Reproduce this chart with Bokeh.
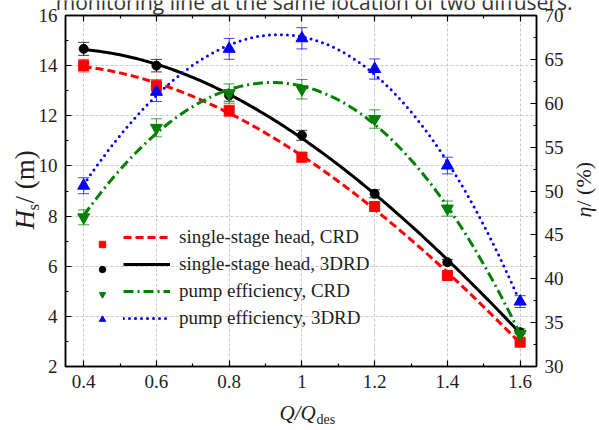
import numpy as np
from bokeh.plotting import figure
from bokeh.models import (Range1d, LinearAxis, FixedTicker, Whisker, TeeHead,
                          ColumnDataSource, Legend, LegendItem, Label,
                          CustomJSTickFormatter)
from bokeh.embed import file_html
from bokeh.resources import INLINE

# Relative flow rate Q/Q_des
flow = [0.4, 0.6, 0.8, 1.0, 1.2, 1.4, 1.6]

# Single-stage head (m) with measurement uncertainty
head_crd = [14.00, 13.20, 12.20, 10.35, 8.38, 5.63, 2.97]
head_crd_err = [0.25, 0.24, 0.22, 0.19, 0.15, 0.10, 0.06]
head_3drd = [14.67, 14.00, 12.81, 11.22, 8.89, 6.16, 3.37]
head_3drd_err = [0.26, 0.25, 0.23, 0.20, 0.16, 0.11, 0.06]

# Pump efficiency (%) with measurement uncertainty
eff_crd = [47.0, 57.2, 61.1, 61.6, 58.2, 48.0, 33.7]
eff_crd_err = [0.85, 1.03, 1.10, 1.11, 1.05, 0.86, 0.61]
eff_3drd = [50.6, 61.3, 66.2, 67.4, 63.9, 52.9, 37.4]
eff_3drd_err = [0.91, 1.10, 1.19, 1.21, 1.15, 0.95, 0.67]

labels = ["single-stage head, CRD", "single-stage head, 3DRD",
          "pump efficiency, CRD", "pump efficiency, 3DRD"]

x_ticks = [0.4, 0.6, 0.8, 1.0, 1.2, 1.4, 1.6]
x_minor = [0.5, 0.7, 0.9, 1.1, 1.3, 1.5]
h_ticks = [2, 4, 6, 8, 10, 12, 14, 16]
h_minor = [3, 5, 7, 9, 11, 13, 15]
eta_ticks = [30, 35, 40, 45, 50, 55, 60, 65, 70]
eta_minor = [32.5, 37.5, 42.5, 47.5, 52.5, 57.5, 62.5, 67.5]

SERIF = "Liberation Serif"
TXT = "#1e1e1e"
W, H = 599, 430

p = figure(width=W, height=H, output_backend="svg", toolbar_location=None,
           x_range=Range1d(0.35, 1.645), y_range=Range1d(2, 16),
           min_border_left=65, min_border_right=63, min_border_top=15,
           min_border_bottom=64)
p.extra_y_ranges = {"eta": Range1d(30, 70)}
p.background_fill_color = "white"
p.border_fill_color = "white"
p.outline_line_color = "black"
p.outline_line_width = 1.5

xt = FixedTicker(ticks=x_ticks, minor_ticks=x_minor)
ht = FixedTicker(ticks=h_ticks, minor_ticks=h_minor)
et = FixedTicker(ticks=eta_ticks, minor_ticks=eta_minor)

bottom_axis = p.below[0]
left_axis = p.left[0]
bottom_axis.ticker = xt
left_axis.ticker = ht
p.xgrid.ticker = xt
p.ygrid.ticker = ht
for g in (p.xgrid, p.ygrid):
    g.grid_line_color = "#c8c8c8"
    g.grid_line_dash = "3 2"
    g.grid_line_width = 1

right_axis = LinearAxis(y_range_name="eta", ticker=et)
top_axis = LinearAxis(ticker=xt,
                      formatter=CustomJSTickFormatter(code="return ''"))
p.add_layout(right_axis, "right")
p.add_layout(top_axis, "above")

for ax in (bottom_axis, left_axis, right_axis, top_axis):
    ax.axis_line_color = "black"
    ax.axis_line_width = 1.5
    ax.major_tick_line_color = "black"
    ax.minor_tick_line_color = "black"
    ax.major_tick_line_width = 1.2
    ax.minor_tick_line_width = 1.2
    ax.major_tick_in = 6
    ax.major_tick_out = 0
    ax.minor_tick_in = 3
    ax.minor_tick_out = 0
    ax.major_label_text_font = SERIF
    ax.major_label_text_font_size = "19px"
    ax.major_label_text_color = TXT
    ax.major_label_standoff = 8
top_axis.major_label_standoff = 0

series = [
    (head_crd, head_crd_err, "#ff0000", "square", 10, "8 4", "default"),
    (head_3drd, head_3drd_err, "#000000", "circle", 9, "solid", "default"),
    (eff_crd, eff_crd_err, "#008000", "inverted_triangle", 12, "10 4 2 4", "eta"),
    (eff_3drd, eff_3drd_err, "#0000ff", "triangle", 12, "0 6", "eta"),
]

xs = np.linspace(0.4, 1.6, 200)
mark_items, line_items = [], []
for lab, (vals, errs, color, marker, size, dash, rn) in zip(labels, series):
    coef = np.polyfit(flow, vals, 3)
    fit = np.polyval(coef, xs)
    ln = p.line(xs, fit, line_color=color, line_width=3, line_dash=dash,
                line_cap="round" if dash == "0 6" else "butt", y_range_name=rn)

    src = ColumnDataSource(dict(
        x=flow, y=vals,
        lower=[v - e for v, e in zip(vals, errs)],
        upper=[v + e for v, e in zip(vals, errs)]))
    wk = Whisker(source=src, base="x", lower="lower", upper="upper",
                 dimension="height", line_color=color, line_width=1,
                 line_alpha=0.75, y_range_name=rn,
                 upper_head=TeeHead(size=11, line_color=color, line_width=1, line_alpha=0.75),
                 lower_head=TeeHead(size=11, line_color=color, line_width=1, line_alpha=0.75))
    p.add_layout(wk)
    sc = p.scatter("x", "y", source=src, marker=marker, size=size,
                   fill_color=color, line_color=color, y_range_name=rn)
    mark_items.append(LegendItem(label=" ", renderers=[sc]))
    line_items.append(LegendItem(label=lab, renderers=[ln]))

common = dict(spacing=5, padding=0, margin=0, border_line_color=None,
              background_fill_alpha=0, label_text_font=SERIF,
              label_text_font_size="19px", label_text_color=TXT,
              glyph_height=20, label_height=20)
leg_marks = Legend(items=mark_items, location=(29, 37), glyph_width=16,
                   label_standoff=0, label_width=0, **common)
leg_lines = Legend(items=line_items, location=(58, 37), glyph_width=47,
                   label_standoff=9, **common)
p.add_layout(leg_marks)
p.add_layout(leg_lines)

# Transparent text layer spanning the whole canvas (1 unit = 1 pixel),
# carrying the axis titles and the caption line above the chart.
t = figure(width=W, height=H, output_backend="svg", toolbar_location=None,
           x_range=Range1d(0, W), y_range=Range1d(0, H), min_border=0,
           x_axis_type=None, y_axis_type=None,
           styles={"position": "absolute", "top": "0px", "left": "0px"})
t.title.visible = False
t.outline_line_color = None
t.background_fill_alpha = 0
t.border_fill_alpha = 0
t.xgrid.visible = False
t.ygrid.visible = False

# Labels sit about a third of an em below the requested baseline, so the
# anchor is pulled back by that amount along the text's "down" direction.
DROP = 0.32


def note(text, cx, cy, size, style="normal", vertical=False, align="left",
         font=SERIF, color=TXT):
    if vertical:
        x, y, angle = cx - DROP * size, H - cy, np.pi / 2
    else:
        x, y, angle = cx, H - (cy - DROP * size), 0.0
    t.add_layout(Label(x=x, y=y, text=text, angle=angle,
                       text_align=align, text_baseline="alphabetic",
                       text_font=font, text_font_size=f"{size}px",
                       text_font_style=style, text_color=color))


# Left axis title: H_s / (m)
note("H", 33, 229, 27, "italic", vertical=True)
note("s", 38, 210, 17, "normal", vertical=True)
note(" / (m)", 33, 203, 27, "normal", vertical=True)

# Right axis title: eta / (%)
note("η", 590, 217, 22, "italic", vertical=True)
note(" / (%)", 590, 206, 22, "normal", vertical=True)

# Bottom axis title: Q/Q_des
note("Q/Q", 279, 419, 21, "italic")
note("des", 316, 423, 14, "normal")

# Caption line running above the chart
note("monitoring line at the same location of two diffusers.", 572, 8, 21,
     font="Open Sans", align="right", color="#333333")

open("out.html", "w").write(file_html([p, t], INLINE))
